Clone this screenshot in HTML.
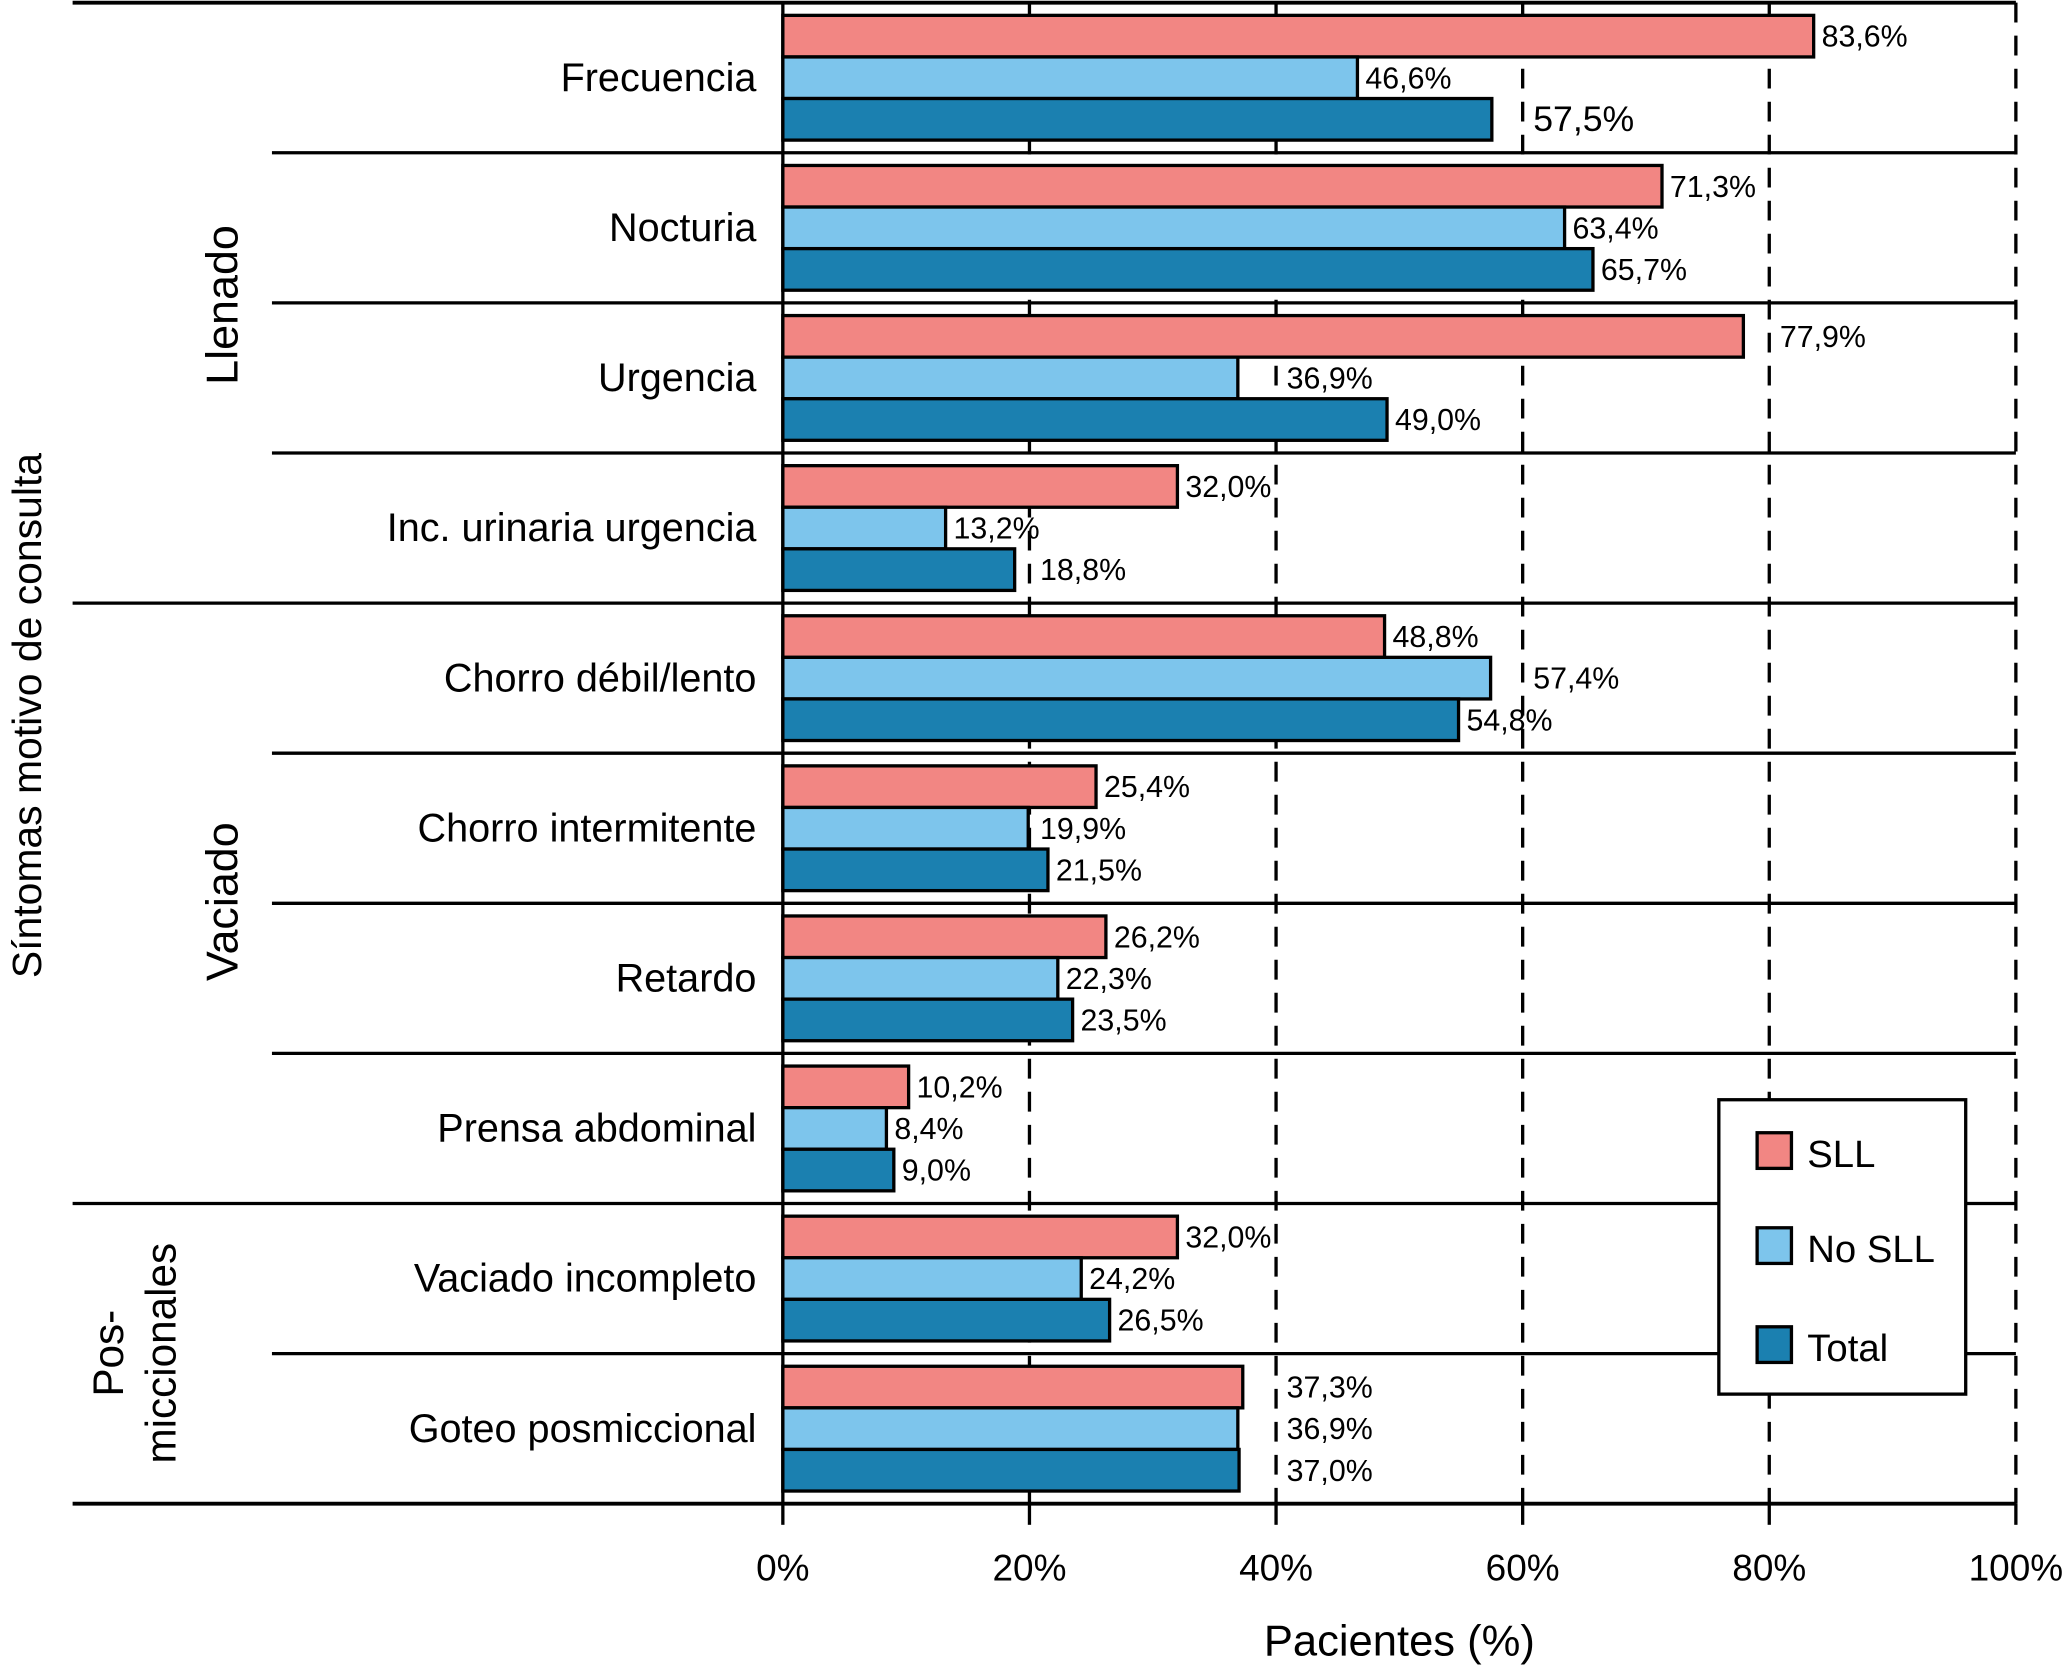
<!DOCTYPE html>
<html><head><meta charset="utf-8"><style>
html,body{margin:0;padding:0;background:#fff;}
svg{display:block;font-family:"Liberation Sans",sans-serif;}
</style></head><body>
<svg id="chart" width="2070" height="1678" viewBox="0 0 1568 1271" xmlns="http://www.w3.org/2000/svg">
<g id="grid"></g>
<g id="bars"></g>
<g id="frame"></g>
<g id="labels"></g>
<g>
<rect x="1302" y="833" width="187" height="223" fill="#fff" stroke="#000" stroke-width="2.5"/>
<rect x="1331" y="858" width="26" height="27" fill="#f28683" stroke="#000" stroke-width="2.5"/>
<text x="1369" y="884" font-size="29">SLL</text>
<rect x="1331" y="930" width="26" height="27" fill="#7dc5ec" stroke="#000" stroke-width="2.5"/>
<text x="1369" y="956" font-size="29">No SLL</text>
<rect x="1331" y="1005" width="26" height="27" fill="#1b80b0" stroke="#000" stroke-width="2.5"/>
<text x="1369" y="1031" font-size="29">Total</text>
</g>
<text x="1060" y="1254" font-size="33" text-anchor="middle">Pacientes (%)</text>
<text transform="translate(31,542) rotate(-90)" font-size="31" text-anchor="middle">Síntomas motivo de consulta</text>
<text transform="translate(180,231) rotate(-90)" font-size="34" text-anchor="middle">Llenado</text>
<text transform="translate(180,683) rotate(-90)" font-size="34" text-anchor="middle">Vaciado</text>
<text transform="translate(93,1025) rotate(-90)" font-size="32" text-anchor="middle">Pos-</text>
<text transform="translate(133,1025) rotate(-90)" font-size="32" text-anchor="middle">miccionales</text>
</svg>
<script>
const categories = ["Frecuencia","Nocturia","Urgencia","Inc. urinaria urgencia","Chorro débil/lento","Chorro intermitente","Retardo","Prensa abdominal","Vaciado incompleto","Goteo posmiccional"];
const sllValues = [83.6,71.3,77.9,32.0,48.8,25.4,26.2,10.2,32.0,37.3];
const noSllValues = [46.6,63.4,36.9,13.2,57.4,19.9,22.3,8.4,24.2,36.9];
const totalValues = [57.5,65.7,49.0,18.8,54.8,21.5,23.5,9.0,26.5,37.0];
const tickValues = [0,20,40,60,80,100];
const tickLabels = ["0%","20%","40%","60%","80%","100%"];

const NS="http://www.w3.org/2000/svg";
const X0=593, X1=1527, YTOP=2, YBOT=1139;
const xs = v => X0 + (X1-X0)*v/100;
const band = (YBOT-YTOP)/categories.length;
const yc = i => YTOP + band*(i+0.5);
const BH = 31.5;
function mk(tag, attrs, parent){const e=document.createElementNS(NS,tag);for(const k in attrs)e.setAttribute(k,attrs[k]);parent.appendChild(e);return e;}
const grid=document.getElementById('grid'), bars=document.getElementById('bars'), frame=document.getElementById('frame'), labels=document.getElementById('labels');

tickValues.forEach((t,i)=>{
  if(t>0){
    const l=mk('line',{x1:xs(t),x2:xs(t),y1:YTOP,y2:YBOT,stroke:'#000','stroke-width':2.5,'stroke-dasharray':'15 10'},grid);
    
    
  }
  const tk=mk('line',{x1:xs(t),x2:xs(t),y1:YBOT,y2:YBOT+16,stroke:'#000','stroke-width':2.5},frame);
  
  
  const tl=mk('text',{x:xs(t),y:1197,'font-size':28,'text-anchor':'middle'},labels);
  tl.textContent=tickLabels[i];
  
  
});

const series=[["sll",sllValues,"#f28683"],["no-sll",noSllValues,"#7dc5ec"],["total",totalValues,"#1b80b0"]];
categories.forEach((c,i)=>{
  const cl=mk('text',{x:573,y:yc(i)+10,'font-size':30,'text-anchor':'end'},labels);
  cl.textContent=c;
  
  
  series.forEach((s,j)=>{
    const v=s[1][i];
    const y=yc(i)-1.5*BH+j*BH;
    const r=mk('rect',{x:X0,y:y,width:xs(v)-X0,height:BH,fill:s[2],stroke:'#000','stroke-width':2.5},bars);
    
    
    let lx=xs(v)+6;
    tickValues.forEach(t=>{const gx=xs(t); if(t>0 && gx>=xs(v)-2 && gx-xs(v)<30) lx=gx+8;});
    const big = (i===0 && j===2);
    const vl=mk('text',{x:lx,y:y+BH/2+(big?9:8),'font-size':big?27:23},labels);
    vl.textContent=v.toFixed(1).replace('.',',')+'%';
    
    
  });
});

const seps=[[YTOP,55],[YTOP+band,206],[YTOP+2*band,206],[YTOP+3*band,206],[YTOP+4*band,55],[YTOP+5*band,206],[YTOP+6*band,206],[YTOP+7*band,206],[YTOP+8*band,55],[YTOP+9*band,206],[YBOT,55]];
seps.forEach((s,k)=>{
  const l=mk('line',{x1:s[1],x2:X1,y1:s[0],y2:s[0],stroke:'#000','stroke-width':k===0||k===seps.length-1?3:2.5},frame);
  
  
});
const ax=mk('line',{x1:X0,x2:X0,y1:YTOP,y2:YBOT,stroke:'#000','stroke-width':2.5},frame);


</script>
</body></html>
